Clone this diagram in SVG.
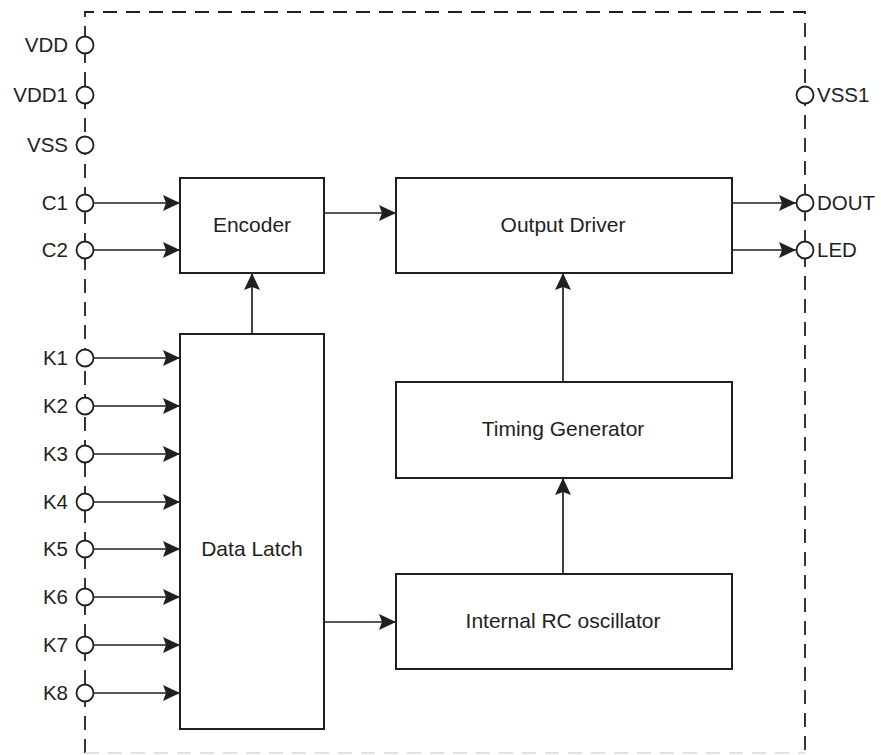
<svg xmlns="http://www.w3.org/2000/svg" width="881" height="755" viewBox="0 0 881 755">
<style>
.box{fill:#fff;stroke:#231f20;stroke-width:2}
.pin{fill:#fff;stroke:#231f20;stroke-width:1.8}
.arr{fill:none;stroke:#231f20;stroke-width:1.7;marker-end:url(#ah)}
.lbl{font-family:"Liberation Sans",Arial,sans-serif;font-size:20.5px;fill:#231f20}
.bl{font-size:21px}
.l{text-anchor:end}
.c{text-anchor:middle}
.border{fill:none;stroke:#231f20;stroke-width:1.8;stroke-dasharray:14 9}
</style>
<defs>
<marker id="ah" viewBox="0 0 17 16" refX="17" refY="8" markerWidth="17" markerHeight="16" markerUnits="userSpaceOnUse" orient="auto">
<path d="M0,0 L17,8 L0,16 L3,8 z" fill="#231f20"/>
</marker>
</defs>
<rect width="881" height="755" fill="#fff"/>
<g id="border">
<path class="border" d="M85,753 L85,12 L805,12 L805,753"/>
<path d="M85,753 L805,753" fill="none" stroke="#d8d8d8" stroke-width="1.6" stroke-dasharray="14 9"/>
</g>
<g id="connectors">
<line class="arr" x1="93" y1="203" x2="180" y2="203"/>
<line class="arr" x1="93" y1="250" x2="180" y2="250"/>
<line class="arr" x1="93" y1="358" x2="180" y2="358"/>
<line class="arr" x1="93" y1="406" x2="180" y2="406"/>
<line class="arr" x1="93" y1="454" x2="180" y2="454"/>
<line class="arr" x1="93" y1="502" x2="180" y2="502"/>
<line class="arr" x1="93" y1="549" x2="180" y2="549"/>
<line class="arr" x1="93" y1="597" x2="180" y2="597"/>
<line class="arr" x1="93" y1="645" x2="180" y2="645"/>
<line class="arr" x1="93" y1="693" x2="180" y2="693"/>
<line class="arr" x1="324" y1="213" x2="396" y2="213"/>
<line class="arr" x1="324" y1="622" x2="396" y2="622"/>
<line class="arr" x1="252" y1="334" x2="252" y2="273"/>
<line class="arr" x1="563" y1="382" x2="563" y2="273"/>
<line class="arr" x1="563" y1="574" x2="563" y2="478"/>
<line class="arr" x1="732" y1="203" x2="796" y2="203"/>
<line class="arr" x1="732" y1="250" x2="796" y2="250"/>
</g>
<g id="pin-VDD"><circle class="pin" cx="85" cy="45" r="8.5"/><text class="lbl l" x="68" y="52">VDD</text></g>
<g id="pin-VDD1"><circle class="pin" cx="85" cy="95" r="8.5"/><text class="lbl l" x="68" y="102">VDD1</text></g>
<g id="pin-VSS"><circle class="pin" cx="85" cy="145" r="8.5"/><text class="lbl l" x="68" y="152">VSS</text></g>
<g id="pin-C1"><circle class="pin" cx="85" cy="203" r="8.5"/><text class="lbl l" x="68" y="210">C1</text></g>
<g id="pin-C2"><circle class="pin" cx="85" cy="250" r="8.5"/><text class="lbl l" x="68" y="257">C2</text></g>
<g id="pin-K1"><circle class="pin" cx="85" cy="358" r="8.5"/><text class="lbl l" x="68" y="365">K1</text></g>
<g id="pin-K2"><circle class="pin" cx="85" cy="406" r="8.5"/><text class="lbl l" x="68" y="413">K2</text></g>
<g id="pin-K3"><circle class="pin" cx="85" cy="454" r="8.5"/><text class="lbl l" x="68" y="461">K3</text></g>
<g id="pin-K4"><circle class="pin" cx="85" cy="502" r="8.5"/><text class="lbl l" x="68" y="509">K4</text></g>
<g id="pin-K5"><circle class="pin" cx="85" cy="549" r="8.5"/><text class="lbl l" x="68" y="556">K5</text></g>
<g id="pin-K6"><circle class="pin" cx="85" cy="597" r="8.5"/><text class="lbl l" x="68" y="604">K6</text></g>
<g id="pin-K7"><circle class="pin" cx="85" cy="645" r="8.5"/><text class="lbl l" x="68" y="652">K7</text></g>
<g id="pin-K8"><circle class="pin" cx="85" cy="693" r="8.5"/><text class="lbl l" x="68" y="700">K8</text></g>
<g id="pin-VSS1"><circle class="pin" cx="805" cy="95" r="8.5"/><text class="lbl" x="817" y="102">VSS1</text></g>
<g id="pin-DOUT"><circle class="pin" cx="805" cy="203" r="8.5"/><text class="lbl" x="817" y="210">DOUT</text></g>
<g id="pin-LED"><circle class="pin" cx="805" cy="250" r="8.5"/><text class="lbl" x="817" y="257">LED</text></g>
<g id="encoder"><rect class="box" x="180" y="178" width="144" height="95"/><text class="lbl bl c" x="252" y="232">Encoder</text></g>
<g id="data-latch"><rect class="box" x="180" y="334" width="144" height="395"/><text class="lbl bl c" x="252" y="556">Data Latch</text></g>
<g id="output-driver"><rect class="box" x="396" y="178" width="336" height="95"/><text class="lbl bl c" x="563" y="232">Output Driver</text></g>
<g id="timing-generator"><rect class="box" x="396" y="382" width="336" height="96"/><text class="lbl bl c" x="563" y="436">Timing Generator</text></g>
<g id="rc-oscillator"><rect class="box" x="396" y="574" width="336" height="95"/><text class="lbl bl c" x="563" y="628">Internal RC oscillator</text></g>
</svg>
